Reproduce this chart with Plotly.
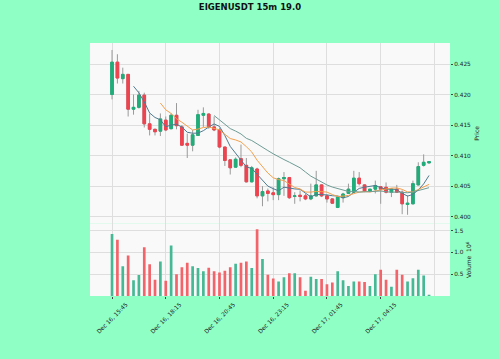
import plotly.graph_objects as go
import pandas as pd

# ---- data (15m candles, index 0 = Dec 16 15:45) ----
opens = [0.4200, 0.4253, 0.4226, 0.4233, 0.4176, 0.4179, 0.4199, 0.4152, 0.4143, 0.4140,
         0.4158, 0.4144, 0.4166, 0.4147, 0.4120, 0.4117, 0.4133, 0.4166, 0.4168, 0.4147,
         0.4142, 0.4114, 0.4093, 0.4081, 0.4095, 0.4084, 0.4057, 0.4078, 0.4034, 0.4042,
         0.4039, 0.4036, 0.4062, 0.4064, 0.4033, 0.4035, 0.4034, 0.4029, 0.4034, 0.4052,
         0.4034, 0.4029, 0.4015, 0.4031, 0.4038, 0.4040, 0.4063, 0.4052, 0.4042, 0.4045,
         0.4049, 0.4048, 0.4040, 0.4045, 0.4040, 0.4020, 0.4021, 0.4052, 0.4084, 0.4088]
highs = [0.4273, 0.4266, 0.4244, 0.4233, 0.4200, 0.4206, 0.4203, 0.4169, 0.4144, 0.4169,
         0.4164, 0.4169, 0.4186, 0.4150, 0.4136, 0.4142, 0.4175, 0.4179, 0.4169, 0.4164,
         0.4145, 0.4114, 0.4093, 0.4097, 0.4118, 0.4096, 0.4083, 0.4080, 0.4050, 0.4046,
         0.4048, 0.4064, 0.4073, 0.4065, 0.4040, 0.4043, 0.4037, 0.4054, 0.4075, 0.4053,
         0.4036, 0.4030, 0.4033, 0.4039, 0.4054, 0.4075, 0.4073, 0.4053, 0.4045, 0.4059,
         0.4050, 0.4056, 0.4045, 0.4052, 0.4043, 0.4035, 0.4059, 0.4089, 0.4102, 0.4091]
lows = [0.4192, 0.4218, 0.4218, 0.4164, 0.4167, 0.4177, 0.4146, 0.4133, 0.4133, 0.4132,
        0.4140, 0.4143, 0.4143, 0.4116, 0.4096, 0.4107, 0.4132, 0.4147, 0.4144, 0.4140,
        0.4112, 0.4083, 0.4069, 0.4080, 0.4081, 0.4056, 0.4056, 0.4030, 0.4017, 0.4025,
        0.4027, 0.4027, 0.4034, 0.4029, 0.4021, 0.4025, 0.4027, 0.4027, 0.4033, 0.4032,
        0.4023, 0.4021, 0.4014, 0.4023, 0.4037, 0.4039, 0.4051, 0.4040, 0.4040, 0.4038,
        0.4021, 0.4038, 0.4032, 0.4039, 0.4004, 0.4003, 0.4020, 0.4051, 0.4082, 0.4087]
closes = [0.4253, 0.4227, 0.4233, 0.4176, 0.4179, 0.4199, 0.4152, 0.4143, 0.4139, 0.4160,
          0.4142, 0.4166, 0.4149, 0.4117, 0.4117, 0.4134, 0.4167, 0.4169, 0.4147, 0.4142,
          0.4114, 0.4092, 0.4080, 0.4094, 0.4084, 0.4057, 0.4080, 0.4034, 0.4041, 0.4038,
          0.4036, 0.4062, 0.4064, 0.4031, 0.4034, 0.4033, 0.4029, 0.4034, 0.4052, 0.4034,
          0.4029, 0.4022, 0.4032, 0.4037, 0.4045, 0.4063, 0.4054, 0.4042, 0.4045, 0.4051,
          0.4045, 0.4040, 0.4045, 0.4040, 0.4021, 0.4022, 0.4054, 0.4082, 0.4089, 0.4090]
volumes_m = [1.42, 1.29, 0.68, 0.93, 0.36, 0.48, 1.12, 0.73, 0.37, 0.79,
             0.35, 1.16, 0.50, 0.66, 0.76, 0.68, 0.64, 0.57, 0.65, 0.57,
             0.54, 0.58, 0.66, 0.74, 0.76, 0.79, 0.64, 1.53, 0.85, 0.49,
             0.40, 0.33, 0.43, 0.52, 0.52, 0.43, 0.12, 0.44, 0.39, 0.39,
             0.27, 0.31, 0.57, 0.36, 0.23, 0.33, 0.33, 0.32, 0.23, 0.50,
             0.60, 0.37, 0.21, 0.60, 0.49, 0.33, 0.41, 0.60, 0.47, 0.01]
tick_positions = [0, 10, 20, 30, 40, 50]
tick_labels = ["Dec 16, 15:45", "Dec 16, 18:15", "Dec 16, 20:45", "Dec 16, 23:15",
               "Dec 17, 01:45", "Dec 17, 04:15"]
extra_grid_positions = [60]
ma_periods = [5, 10, 20]
price_ticks = [0.400, 0.405, 0.410, 0.415, 0.420, 0.425]
volume_ticks = [0.5, 1.0, 1.5]

# ---- styles ----
UP = "#1FAE7A"
DOWN = "#F0434F"
VUP = "#45B894"
VDOWN = "#F2636A"
WICK = "#9A9A9A"
MA_COLORS = ["#4F7A90", "#F2A04C", "#6E9C94"]
PAPER = "#8FFFC6"
PLOT = "#F9F9F9"
GRID = "#DEDEDE"
FONT = "DejaVu Sans"

idx = list(range(len(opens)))
df = pd.DataFrame({"o": opens, "h": highs, "l": lows, "c": closes, "v": volumes_m}, index=idx)
body_hi = df[["o", "c"]].max(axis=1)
body_lo = df[["o", "c"]].min(axis=1)

fig = go.Figure()

# wicks (grey)
fig.add_trace(go.Candlestick(
    x=idx, open=df.o, high=df.h, low=df.l, close=df.c,
    increasing=dict(line=dict(color=WICK, width=1), fillcolor=WICK),
    decreasing=dict(line=dict(color=WICK, width=1), fillcolor=WICK),
    xaxis="x", yaxis="y", showlegend=False, hoverinfo="skip"))
# coloured bodies
fig.add_trace(go.Candlestick(
    x=idx, open=df.o, high=body_hi, low=body_lo, close=df.c,
    increasing=dict(line=dict(color=UP, width=1), fillcolor=UP),
    decreasing=dict(line=dict(color=DOWN, width=1), fillcolor=DOWN),
    xaxis="x", yaxis="y", showlegend=False))

for p, col in zip(ma_periods, MA_COLORS):
    ma = df.c.rolling(p).mean()
    fig.add_trace(go.Scatter(x=idx, y=ma, mode="lines",
                             line=dict(color=col, width=1),
                             xaxis="x", yaxis="y", showlegend=False))

vcolors = [VUP if c >= o else VDOWN for o, c in zip(opens, closes)]
fig.add_trace(go.Bar(x=idx, y=df.v, marker=dict(color=vcolors, line=dict(width=0)),
                     width=0.5, xaxis="x2", yaxis="y2", showlegend=False))

xr = [-4.1, 62.9]
tickfont = dict(family=FONT, size=5.8, color="#222222")
common_x = dict(range=xr, tickvals=tick_positions, showgrid=True, gridcolor=GRID,
                gridwidth=0.8, zeroline=False, showline=False,
                minor=dict(tickvals=extra_grid_positions, showgrid=True, gridcolor=GRID,
                           gridwidth=0.8, ticks=""))

fig.update_layout(
    width=500, height=359,
    margin=dict(l=90, r=50, t=43, b=63),
    paper_bgcolor=PAPER, plot_bgcolor=PLOT,
    title=dict(text="<b>EIGENUSDT 15m 19.0</b>", x=0.5, xanchor="center",
               y=1 - 7 / 359, yanchor="middle",
               font=dict(family=FONT, size=8.5, color="#111111")),
    xaxis=dict(**common_x, domain=[0, 1], anchor="y", matches="x2",
               showticklabels=False, ticks="", rangeslider=dict(visible=False)),
    xaxis2=dict(**common_x, domain=[0, 1], anchor="y2", ticktext=tick_labels,
                ticks="outside", ticklen=2, tickcolor="#444444",
                tickangle=-45, tickfont=tickfont, ticklabelshift=14),
    yaxis=dict(domain=[0.286, 1], range=[0.39885, 0.42844], side="right",
               tickvals=price_ticks, ticktext=[f"{t:.3f}" for t in price_ticks],
               ticks="outside", ticklen=2, tickcolor="#444444", tickfont=tickfont,
               showgrid=True, gridcolor=GRID, gridwidth=0.8, zeroline=False,
               title=dict(text="Price", font=dict(family=FONT, size=6, color="#222222"),
                          standoff=4)),
    yaxis2=dict(domain=[0, 0.286], range=[0, 1.66], side="right",
                tickvals=volume_ticks, ticktext=[f"{t:.1f}" for t in volume_ticks],
                ticks="outside", ticklen=2, tickcolor="#444444", tickfont=tickfont,
                showgrid=True, gridcolor=GRID, gridwidth=0.8, zeroline=False,
                title=dict(text="Volume  10<sup>6</sup>",
                           font=dict(family=FONT, size=6, color="#222222"), standoff=4)),
    bargap=0.5,
)

fig.write_html("out.html")
